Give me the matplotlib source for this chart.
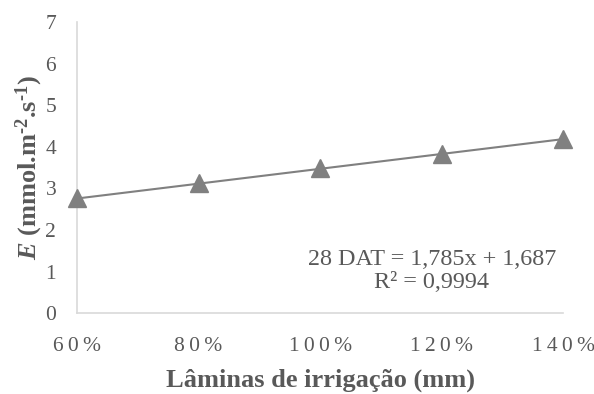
import matplotlib
matplotlib.use("Agg")
import matplotlib.pyplot as plt
import numpy as np

# Data
laminas = [0.6, 0.8, 1.0, 1.2, 1.4]
transpiracao = [2.76, 3.12, 3.48, 3.83, 4.19]
x_tick_labels = ["60%", "80%", "100%", "120%", "140%"]
y_ticks = [0, 1, 2, 3, 4, 5, 6, 7]
slope, intercept = 1.785, 1.687

TEXT = "#595959"
AXIS = "#d9d9d9"
MARK = "#808080"

plt.rcParams["font.family"] = ["Liberation Serif", "DejaVu Serif"]
plt.rcParams["mathtext.fontset"] = "custom"
plt.rcParams["mathtext.rm"] = "Liberation Serif:bold"
plt.rcParams["mathtext.bf"] = "Liberation Serif:bold"
plt.rcParams["mathtext.it"] = "Liberation Serif:bold:italic"


def spaced(s):
    # wide letter spacing like the original axis labels
    return "\u2009".join(s)


fig = plt.figure(figsize=(5.94, 3.94), dpi=100)
ax = fig.add_axes([0.1296, 0.205, 0.8185, 0.739])

x = np.array(laminas)
ax.plot(x, slope * x + intercept, color=MARK, linewidth=1.5, zorder=2)
ax.plot(laminas, transpiracao, linestyle="none", marker="^", markersize=12.5,
        color=MARK, zorder=3, clip_on=False)

ax.set_xlim(0.6, 1.4)
ax.set_ylim(0, 7)
ax.set_xticks(laminas)
ax.set_xticklabels([spaced(t) for t in x_tick_labels])
ax.set_yticks(y_ticks)

for side in ["top", "right"]:
    ax.spines[side].set_visible(False)
for side in ["left", "bottom"]:
    ax.spines[side].set_color(AXIS)
    ax.spines[side].set_linewidth(1.2)

ax.tick_params(axis="both", length=0, labelsize=15.5, colors=TEXT)
ax.tick_params(axis="x", pad=17)
ax.tick_params(axis="y", pad=15)

ax.set_xlabel("Lâminas de irrigação (mm)", fontsize=19, fontweight="bold",
              color=TEXT, labelpad=9)
ax.set_ylabel("$\\mathit{E}$ (mmol.m$^{\u20102}$.s$^{\u20101}$)",
              fontsize=19, fontweight="bold", color=TEXT, labelpad=0)

ax.text(1.184, 1.29, "28 DAT = 1,785x + 1,687", ha="center", va="center",
        fontsize=17.4, color=TEXT)
ax.text(1.184, 0.74, "R² = 0,9994", ha="center", va="center",
        fontsize=17.4, color=TEXT)

fig.savefig("out.png", dpi=100)
